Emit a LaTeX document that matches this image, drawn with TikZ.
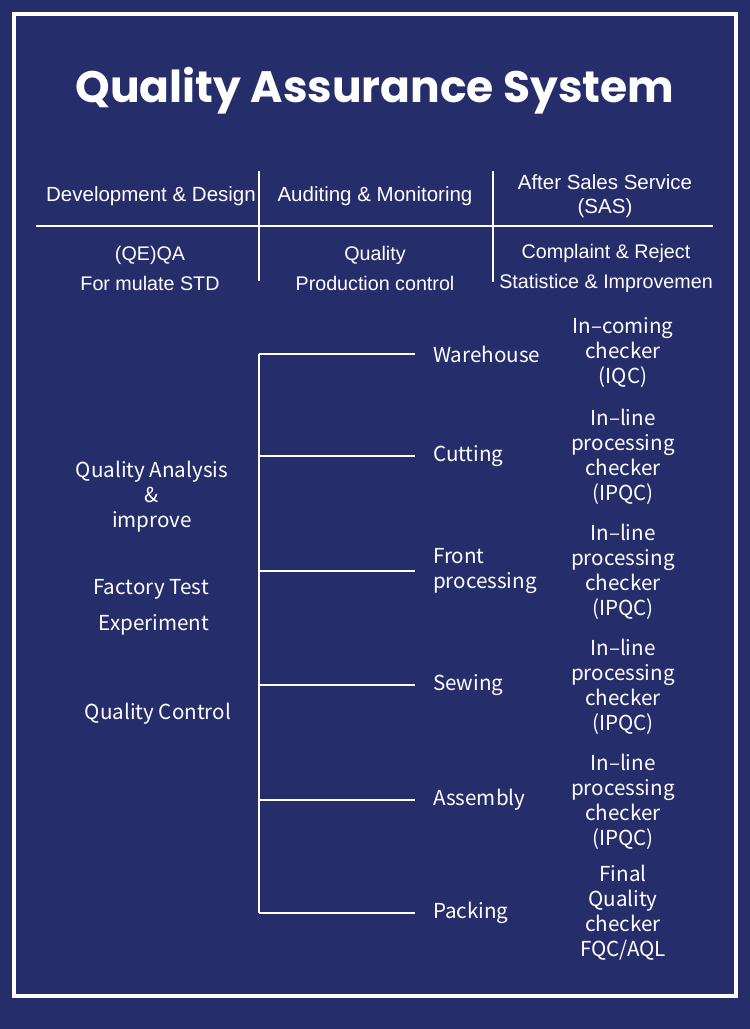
\documentclass[tikz,border=0pt]{standalone}
\usepackage{fontspec}
\setmainfont{Liberation Sans}
\newfontfamily\titlefont{Poppins}
\newfontfamily\cjk{Noto Sans CJK SC}
\usetikzlibrary{positioning}
\definecolor{navy}{HTML}{262D6B}

\begin{document}
\begin{tikzpicture}[
    x=1pt, y=-1pt,
    head/.style={text=white, align=center, inner sep=0pt, font=\fontsize{20.5}{24}\selectfont},
    row/.style={head, font=\fontsize{19.7}{30}\selectfont},
    lbl/.style={text=white, align=center, inner sep=0pt, font=\cjk\fontsize{20.6}{25}\selectfont},
    stage/.style={lbl, align=left, anchor=west, inner xsep=18pt},
    rule/.style={draw=white, line width=1.2pt},
    tree/.style={draw=white, line width=1.2pt},
]
\fill[navy] (0,0) rectangle (750,1029);
\useasboundingbox (0,0) rectangle (750,1029);
\draw[white, line width=3.5pt] (14,14) rectangle (736,996);

\node[text=white, font=\titlefont\bfseries\fontsize{44}{50}\selectfont] (title) at (375,91) {Quality Assurance System};

% header table
\node[head] (hdev) at (151,196) {Development \& Design};
\node[head] (haud) at (375,196) {Auditing \& Monitoring};
\node[head] (hsas) at (605,196) {After Sales Service\\(SAS)};
\node[row] (qeqa) at (150,268) {(QE)QA\\For mulate STD};
\node[row] (qprod) at (375,268) {Quality\\Production control};
\node[row] (compl) at (606,268) {Complaint \& Reject\\Statistice \& Improvemen};
\draw[rule] (36,226) -- (713,226);
\draw[rule] (259,171) -- (259,281);
\draw[rule] (493,171) -- (493,282);

% left column
\node[lbl] (qana) at (152,497) {Quality Analysis\\\&\\improve};
\node[lbl] (ftest) at (151,589) {Factory Test};
\node[lbl] (expt) at (154,625) {Experiment};
\node[lbl] (qctrl) at (158,714) {Quality Control};

% stages
\node[stage] (warehouse) at (415,354) {Warehouse};
\node[stage] (cutting) at (415,456) {Cutting};
\node[stage] (front) at (415,571) {Front\\processing};
\node[stage] (sewing) at (415,685) {Sewing};
\node[stage] (assembly) at (415,800) {Assembly};
\node[stage] (packing) at (415,913) {Packing};

% checkers
\node[lbl] (iqc) at (623,353) {In–coming\\checker\\(IQC)};
\node[lbl] (ipqca) at (623,457) {In–line\\processing\\checker\\(IPQC)};
\node[lbl] (ipqcb) at (623,572) {In–line\\processing\\checker\\(IPQC)};
\node[lbl] (ipqcc) at (623,687) {In–line\\processing\\checker\\(IPQC)};
\node[lbl] (ipqcd) at (623,802) {In–line\\processing\\checker\\(IPQC)};
\node[lbl] (fqc) at (623,913) {Final\\Quality\\checker\\FQC/AQL};

% tree
\coordinate (trunk) at (259,0);
\draw[tree] (warehouse.west -| trunk) -- (packing.west -| trunk);
\foreach \s in {warehouse,cutting,front,sewing,assembly,packing}
    \draw[tree] (\s.west -| trunk) -- (\s.west);
\end{tikzpicture}
\end{document}
